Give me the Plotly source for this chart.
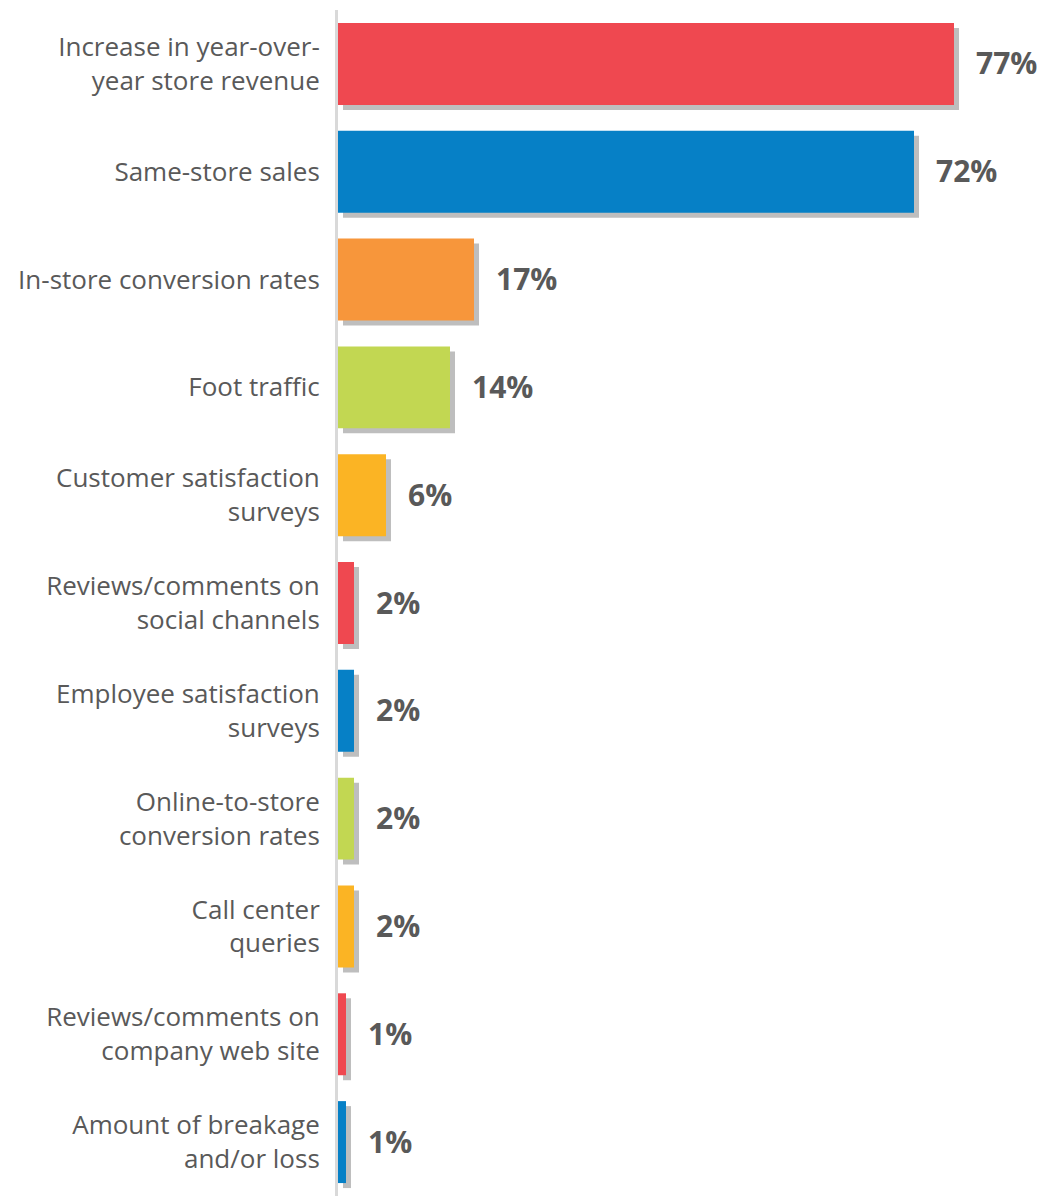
import plotly.graph_objects as go

# Survey results: metrics used to measure store performance
categories = [
    "Increase in year-over-<br>year store revenue",
    "Same-store sales",
    "In-store conversion rates",
    "Foot traffic",
    "Customer satisfaction<br>surveys",
    "Reviews/comments on<br>social channels",
    "Employee satisfaction<br>surveys",
    "Online-to-store<br>conversion rates",
    "Call center<br>queries",
    "Reviews/comments on<br>company web site",
    "Amount of breakage<br>and/or loss",
]
values = [77, 72, 17, 14, 6, 2, 2, 2, 2, 1, 1]
value_labels = ["77%", "72%", "17%", "14%", "6%", "2%", "2%", "2%", "2%", "1%", "1%"]

RED, BLUE, ORANGE, GREEN, YELLOW = "#EF4850", "#0680C6", "#F7963B", "#C2D752", "#FBB424"
bar_colors = [RED, BLUE, ORANGE, GREEN, YELLOW, RED, BLUE, GREEN, YELLOW, RED, BLUE]
SHADOW = "#BEBEBE"
TEXT = "#595959"

W, H = 1047, 1199
M_L, M_R, M_T, M_B = 338, 0, 10, 3
plot_w = W - M_L - M_R
plot_h = H - M_T - M_B
px_per_unit = 8.0
x_max = plot_w / px_per_unit
n = len(categories)
row_px = plot_h / n

# Drop shadow offset (pixels) converted into axis units
sx = 5 / px_per_unit
sy = 5 / row_px

pos = list(range(n))

fig = go.Figure()

# Shadow bars live on the base axes, whose ranges are shifted by the offset
fig.add_trace(go.Bar(
    x=values, y=pos, orientation="h", width=0.76,
    marker=dict(color=SHADOW, line=dict(width=0)),
    hoverinfo="skip", showlegend=False,
    xaxis="x", yaxis="y",
))

# Coloured bars on the overlaying axes
fig.add_trace(go.Bar(
    x=values, y=pos, orientation="h", width=0.76,
    marker=dict(color=bar_colors, line=dict(width=0)),
    showlegend=False,
    xaxis="x2", yaxis="y2",
))

for v, lab, p in zip(values, value_labels, pos):
    fig.add_annotation(
        x=v, y=p, xref="x2", yref="y2", text=f"<b>{lab}</b>",
        showarrow=False, xanchor="left", yanchor="middle", xshift=20, yshift=1,
        font=dict(family="Open Sans", size=30, color=TEXT),
    )

fig.update_layout(
    width=W, height=H, autosize=False,
    margin=dict(l=M_L, r=M_R, t=M_T, b=M_B, pad=0),
    paper_bgcolor="white", plot_bgcolor="white",
    barmode="overlay",
    font=dict(family="Open Sans", color=TEXT),
    xaxis=dict(range=[-sx, x_max - sx], visible=False, fixedrange=True),
    yaxis=dict(range=[n - 0.5 - sy, -0.5 - sy], visible=False, fixedrange=True),
    xaxis2=dict(range=[0, x_max], overlaying="x", visible=False, fixedrange=True),
    yaxis2=dict(
        range=[n - 0.5, -0.5], overlaying="y", side="left",
        tickvals=pos, ticktext=categories, ticks="",
        showgrid=False, zeroline=False,
        showline=True, linecolor="#D9D9D9", linewidth=3,
        ticklabelstandoff=10,
        tickfont=dict(family="Open Sans", size=26, color=TEXT),
        fixedrange=True,
    ),
)

fig.write_html("out.html")
